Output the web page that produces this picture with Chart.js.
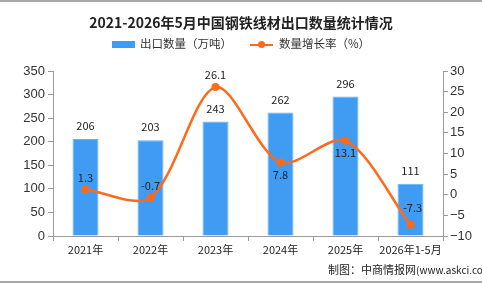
<!DOCTYPE html>
<html>
<head>
<meta charset="utf-8">
<script src="https://cdn.jsdelivr.net/npm/chart.js@4/dist/chart.umd.min.js"></script>
<style>
  html, body { margin: 0; padding: 0; background: #fff; }
  #wrap { position: relative; width: 482px; height: 284px; overflow: hidden; font-family: "Noto Sans CJK SC", sans-serif; }
  #topline { position: absolute; left: 0; top: 0; width: 482px; height: 2px; background: #a8a8a8; }
  #botline { position: absolute; left: 0; top: 281px; width: 482px; height: 2px; background: #a8a8a8; }
  #title { position: absolute; left: 0; top: 12px; width: 482px; text-align: center; font-size: 14px; font-weight: bold; color: #222; }
  #legend { position: absolute; left: 0; top: 35px; width: 482px; font-size: 11.5px; color: #333; }
  .lg { position: absolute; top: 0; white-space: nowrap; }
  .box { display: inline-block; width: 23px; height: 7px; background: #3f9cf2; vertical-align: middle; margin-right: 5px; }
  .ln { display: inline-block; position: relative; width: 23px; height: 2px; background: #ff6a1a; vertical-align: middle; margin-right: 6px; }
  .ln::after { content: ""; position: absolute; left: 8px; top: -3px; width: 7px; height: 7px; border-radius: 50%; background: #ff6a1a; }
  #source { position: absolute; left: 328px; top: 261px; font-size: 11px; color: #222; white-space: nowrap; }
  #source small { font-size: 10px; }
  canvas { position: absolute; left: 0; top: 0; }
</style>
</head>
<body>
<div id="wrap">
  <canvas id="chart" width="482" height="284"></canvas>
  <div id="topline"></div>
  <div id="botline"></div>
  <div id="title">2021-2026年5月中国钢铁线材出口数量统计情况</div>
  <div id="legend">
    <span class="lg" style="left:112px"><span class="box"></span>出口数量（万吨）</span>
    <span class="lg" style="left:250px"><span class="ln"></span>数量增长率（%）</span>
  </div>
  <div id="source">制图：中商情报网<small>(www.askci.com)</small></div>
</div>
<script>
const categories = ['2021年', '2022年', '2023年', '2024年', '2025年', '2026年1-5月'];
const exportVolume = [206, 203, 243, 262, 296, 111];
const growthRate = [1.3, -0.7, 26.1, 7.8, 13.1, -7.3];
const leftTicks = [0, 50, 100, 150, 200, 250, 300, 350];
const rightTicks = [-10, -5, 0, 5, 10, 15, 20, 25, 30];

// which growth labels sit under their point
const rateBelow = [false, false, false, true, true, false];

const valueLabels = {
    id: 'valueLabels',
    afterDatasetsDraw(chart) {
        const ctx = chart.ctx;
        ctx.save();
        ctx.font = '11px "Noto Sans CJK SC", "DejaVu Sans", sans-serif';
        ctx.fillStyle = '#222';
        ctx.textAlign = 'center';
        ctx.textBaseline = 'middle';
        chart.getDatasetMeta(0).data.forEach((bar, i) => {
            ctx.fillText(String(exportVolume[i]), bar.x, bar.y - 13);
        });
        chart.getDatasetMeta(1).data.forEach((pt, i) => {
            const txt = growthRate[i].toFixed(1);
            const last = i === growthRate.length - 1;
            const dy = rateBelow[i] ? 12 : (last ? -17 : -12);
            ctx.fillText(txt, pt.x + (last ? 2 : 0), pt.y + dy);
        });
        ctx.restore();
    }
};

const tickFont = { family: '"Liberation Sans", Arial, sans-serif', size: 13 };
const axisGrey = '#9a9a9a';

new Chart(document.getElementById('chart').getContext('2d'), {
    type: 'bar',
    data: {
        labels: categories,
        datasets: [{
            label: '出口数量（万吨）',
            data: exportVolume,
            backgroundColor: '#3f9cf2',
            borderColor: '#69b2f5',
            borderWidth: 1,
            barPercentage: 0.4,
            categoryPercentage: 1,
            yAxisID: 'y',
            order: 2
        }, {
            type: 'line',
            label: '数量增长率（%）',
            data: growthRate,
            borderColor: '#ff6a1a',
            backgroundColor: '#ff6a1a',
            borderWidth: 2.5,
            pointRadius: 4,
            pointBackgroundColor: '#ff6a1a',
            pointBorderWidth: 0,
            tension: 0.3,
            yAxisID: 'y1',
            order: 1
        }]
    },
    options: {
        responsive: false,
        animation: false,
        layout: { padding: { top: 71, left: 0, right: 0, bottom: 0 } },
        plugins: {
            legend: { display: false },
            title: { display: false },
            tooltip: { enabled: false }
        },
        scales: {
            x: {
                offset: true,
                grid: { display: true, offset: true, drawOnChartArea: false, tickLength: 5, color: axisGrey },
                border: { color: axisGrey },
                ticks: { color: '#222', font: { family: '"Noto Sans CJK SC", sans-serif', size: 11 }, maxRotation: 0, autoSkip: false, padding: 2 },
                afterFit(scale) { scale.height = 48; }
            },
            y: {
                position: 'left',
                min: 0,
                max: 350,
                afterBuildTicks(scale) { scale.ticks = leftTicks.map(v => ({ value: v })); },
                grid: { display: true, drawOnChartArea: false, tickLength: 5, color: axisGrey },
                border: { color: axisGrey },
                ticks: { color: '#333', font: tickFont, padding: 3 },
                afterFit(scale) { scale.width = 53; }
            },
            y1: {
                position: 'right',
                min: -10,
                max: 30,
                afterBuildTicks(scale) { scale.ticks = rightTicks.map(v => ({ value: v })); },
                grid: { display: true, drawOnChartArea: false, tickLength: 5, color: axisGrey },
                border: { color: axisGrey },
                ticks: { color: '#333', font: tickFont, padding: 2, callback: v => String(v).replace('-', '\u2212') },
                afterFit(scale) { scale.width = 39; }
            }
        }
    },
    plugins: [valueLabels]
});
</script>
</body>
</html>
